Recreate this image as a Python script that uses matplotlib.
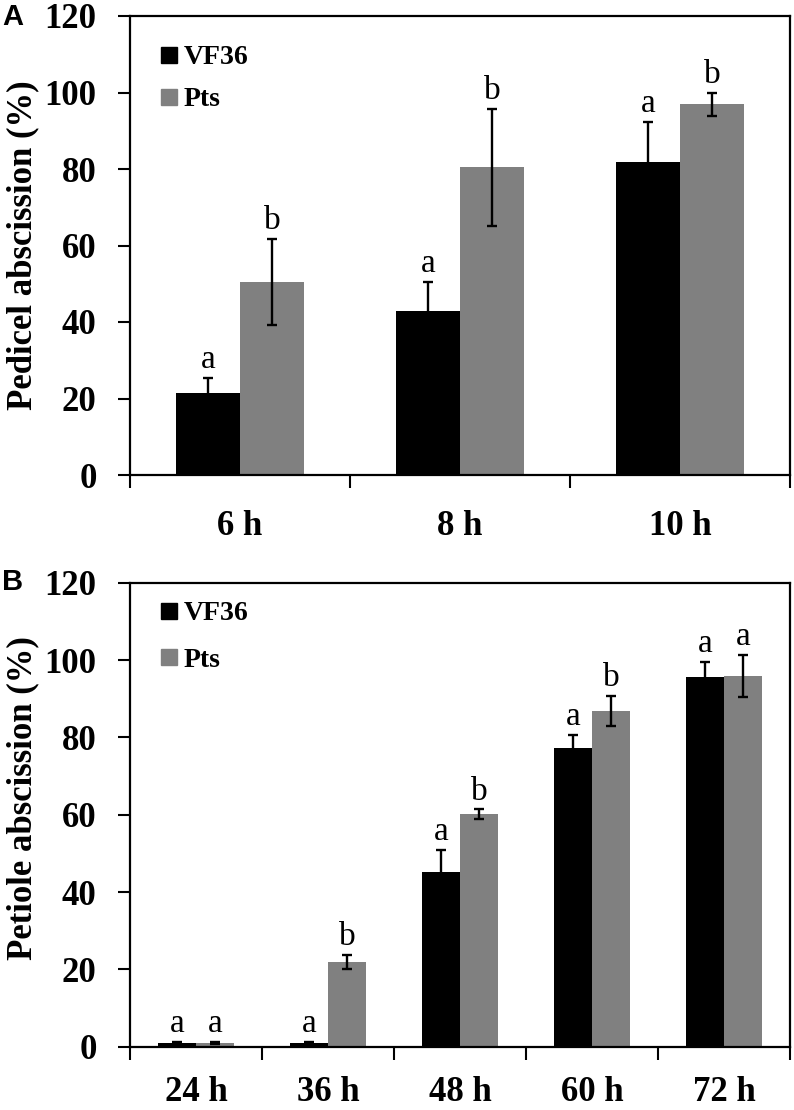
import matplotlib
matplotlib.use("Agg")
import matplotlib.pyplot as plt
from matplotlib.lines import Line2D
import numpy as np

# Panel A - pedicel abscission
pedicel_times = ["6 h", "8 h", "10 h"]
pedicel_vf36 = [21.5, 42.9, 81.9]
pedicel_vf36_err = [3.9, 7.5, 10.5]
pedicel_pts = [50.4, 80.4, 96.9]
pedicel_pts_err = [11.3, 15.3, 3.1]
pedicel_vf36_sig = ["a", "a", "a"]
pedicel_pts_sig = ["b", "b", "b"]

# Panel B - petiole abscission
petiole_times = ["24 h", "36 h", "48 h", "60 h", "72 h"]
petiole_vf36 = [1.0, 1.0, 45.1, 77.2, 95.7]
petiole_vf36_err = [0.3, 0.3, 5.9, 3.4, 3.9]
petiole_pts = [1.0, 21.9, 60.2, 86.9, 95.9]
petiole_pts_err = [0.3, 1.8, 1.2, 3.9, 5.4]
petiole_vf36_sig = ["a", "a", "a", "a", "a"]
petiole_pts_sig = ["a", "b", "b", "b", "a"]

series_names = ["VF36", "Pts"]
COLORS = ["#000000", "#808080"]
yticks = [0, 20, 40, 60, 80, 100, 120]

SERIF = "Liberation Serif"
BAR_W = 0.29


def draw_panel(ax, cats, v1, e1, v2, e2, s1, s2, ylabel, leg_y, leg_space, ylab_y, xpad):
    n = len(cats)
    x = np.arange(n)
    err_kw = dict(elinewidth=1.7, capthick=1.7, ecolor="black")
    ax.bar(x - BAR_W / 2, v1, BAR_W, yerr=e1, color=COLORS[0], capsize=3.5,
        error_kw=err_kw, zorder=2)
    ax.bar(x + BAR_W / 2, v2, BAR_W, yerr=e2, color=COLORS[1], capsize=3.5,
        error_kw=err_kw, zorder=2)

    # significance letters above the error bars
    for xi, val, err, lab in zip(x - BAR_W / 2, v1, e1, s1):
        ax.annotate(lab, (xi, val + err), xytext=(0, 7), textcoords="offset points",
            ha="center", va="baseline", fontsize=24, family=SERIF)
    for xi, val, err, lab in zip(x + BAR_W / 2, v2, e2, s2):
        ax.annotate(lab, (xi, val + err), xytext=(0, 7), textcoords="offset points",
            ha="center", va="baseline", fontsize=24, family=SERIF)

    ax.set_xlim(-0.5, n - 0.5)
    ax.set_ylim(0, 120)
    ax.set_yticks(yticks)
    ax.set_yticklabels([str(t) for t in yticks], fontsize=25, fontweight="bold", family=SERIF)
    ax.set_xticks(x)
    ax.set_xticklabels(cats, fontsize=25, fontweight="bold", family=SERIF)
    ax.set_xticks(np.arange(n + 1) - 0.5, minor=True)
    ax.tick_params(axis="x", which="major", length=0, pad=xpad)
    ax.tick_params(axis="x", which="minor", length=9, width=1.5, direction="out")
    ax.tick_params(axis="y", which="major", length=9, width=1.5, direction="out", pad=15)
    for sp in ax.spines.values():
        sp.set_linewidth(1.6)

    ax.set_ylabel(ylabel, fontsize=25, fontweight="bold", family=SERIF)
    ax.yaxis.set_label_coords(-0.138, ylab_y)

    handles = [Line2D([], [], marker="s", linestyle="none", markersize=11,
        color=c) for c in COLORS]
    ax.legend(handles, series_names, loc="upper left", bbox_to_anchor=(0.043, leg_y),
        frameon=False, borderaxespad=0, borderpad=0, handlelength=0.8,
        handletextpad=0.1, labelspacing=leg_space,
        prop=dict(family=SERIF, weight="bold", size=20))


fig = plt.figure(figsize=(7.94, 11.10), dpi=100)
ax_a = fig.add_axes([130 / 794, 1 - 475 / 1110, 660 / 794, 459 / 1110])
ax_b = fig.add_axes([130 / 794, 1 - 1046.7 / 1110, 660 / 794, 464 / 1110])

draw_panel(ax_a, pedicel_times, pedicel_vf36, pedicel_vf36_err, pedicel_pts,
    pedicel_pts_err, pedicel_vf36_sig, pedicel_pts_sig,
    "Pedicel abscission (%)", 0.937, 0.6, 0.5, 25)
draw_panel(ax_b, petiole_times, petiole_vf36, petiole_vf36_err, petiole_pts,
    petiole_pts_err, petiole_vf36_sig, petiole_pts_sig,
    "Petiole abscission (%)", 0.961, 0.75, 0.535, 21)

fig.text(2 / 794, 1 - 25 / 1110, "A", fontsize=21, fontweight="bold",
    family="Liberation Sans", ha="left", va="baseline")
fig.text(2 / 794, 1 - 590 / 1110, "B", fontsize=21, fontweight="bold",
    family="Liberation Sans", ha="left", va="baseline")

fig.savefig("out.png", dpi=100)
